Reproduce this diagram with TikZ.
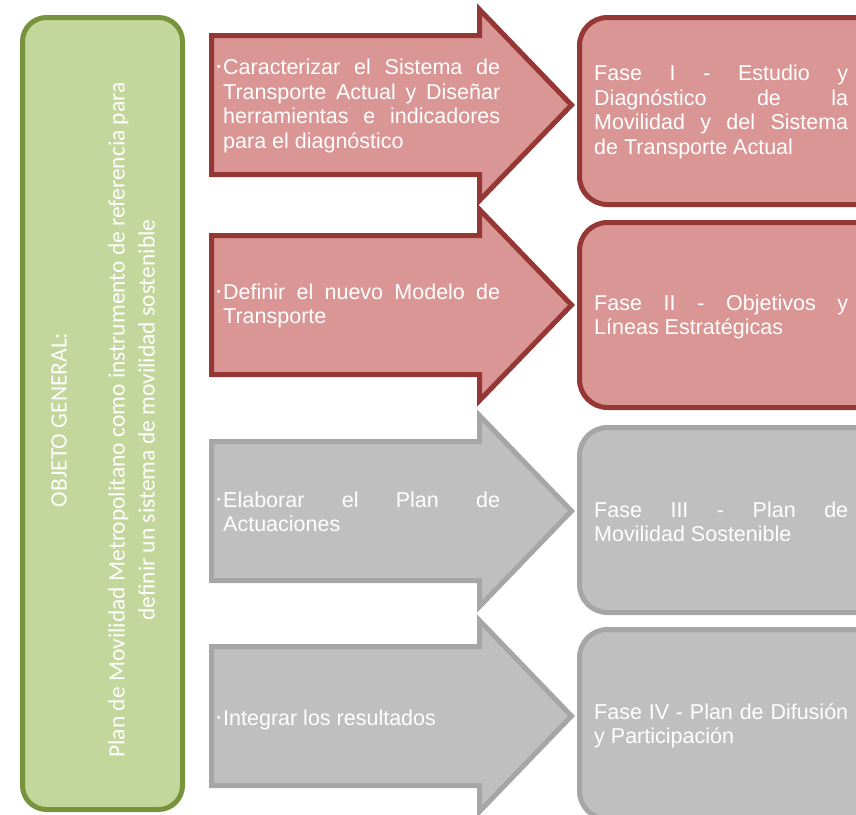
\documentclass[tikz,border=0pt]{standalone}
\usepackage{fontspec}
\setmainfont{Liberation Sans}
\newfontfamily\greenfont{Carlito}
\definecolor{redfill}{HTML}{D99694}
\definecolor{redline}{HTML}{953735}
\definecolor{grayfill}{HTML}{BFBFBF}
\definecolor{grayline}{HTML}{A6A6A6}
\definecolor{greenfill}{HTML}{C3D69B}
\definecolor{greenline}{HTML}{77933C}
\newcommand\bigarrowpath[2]{%
  \draw[#1] (211.5,#2-69.5) -- (479.5,#2-69.5) -- (479.5,#2-95.5) -- (571.5,#2)
    -- (479.5,#2+95.5) -- (479.5,#2+69.5) -- (211.5,#2+69.5) -- cycle;}
\newcommand\bul{\llap{\raisebox{4pt}{\fontsize{11}{11}\selectfont •}\hspace{2.5pt}}}
\hyphenpenalty=10000
\exhyphenpenalty=10000
\tikzset{
  redshape/.style={fill=redfill, draw=redline, line width=5pt},
  grayshape/.style={fill=grayfill, draw=grayline, line width=5pt},
  greenshape/.style={fill=greenfill, draw=greenline, line width=5pt},
  arrowtext/.style={text=white, text width=277pt, align=justify, inner sep=0pt,
    anchor=west, font=\fontsize{21.5}{24.5}\selectfont},
  boxtext/.style={text=white, text width=254pt, align=justify, inner sep=0pt,
    anchor=west, font=\fontsize{21.5}{24.5}\selectfont},
  greentext/.style={text=white, align=center, inner sep=0pt, rotate=90,
    font=\greenfont\fontsize{23.5}{30}\selectfont},
}
\begin{document}
\begin{tikzpicture}[x=1pt,y=-1pt]
\useasboundingbox (0,0) rectangle (856,814);
\clip (0,0) rectangle (856,814);

% left green box
\draw[greenshape, rounded corners=24pt] (22.5,17.5) rectangle (182.5,809.5);
\node[greentext] (obj) at (103,420)
  {OBJETO GENERAL:\\[28pt]Plan de Movilidad Metropolitano como instrumento de referencia para\\definir un sistema de movilidad sostenible};

% arrows
\bigarrowpath{redshape}{105}
\bigarrowpath{redshape}{305}
\bigarrowpath{grayshape}{511}
\bigarrowpath{grayshape}{716}

\node[arrowtext] (a1) at (223,106)
  {\bul Caracterizar el Sistema de\linebreak Transporte Actual y Diseñar\linebreak herramientas e indicadores\linebreak para el diagnóstico};
\node[arrowtext] (a2) at (223,306)
  {\bul Definir el nuevo Modelo de\linebreak Transporte};
\node[arrowtext] (a3) at (223,512)
  {\bul Elaborar el Plan de\linebreak Actuaciones};
\node[arrowtext] (a4) at (223,720)
  {\bul Integrar los resultados};

% right boxes
\draw[redshape, rounded corners=28pt] (579.5,17.5) rectangle (900,204.5);
\draw[redshape, rounded corners=28pt] (579.5,222.5) rectangle (900,407.5);
\draw[grayshape, rounded corners=28pt] (579.5,427.5) rectangle (900,612.5);
\draw[grayshape, rounded corners=28pt] (579.5,629.5) rectangle (900,819);

\node[boxtext] (f1) at (594,112)
  {Fase I - Estudio y\linebreak Diagnóstico de la\linebreak Movilidad y del Sistema\linebreak de Transporte Actual};
\node[boxtext] (f2) at (594,317)
  {Fase II - Objetivos y\linebreak Líneas Estratégicas};
\node[boxtext] (f3) at (594,522)
  {Fase III - Plan de\linebreak Movilidad Sostenible};
\node[boxtext] (f4) at (594,726)
  {Fase IV - Plan de Difusión\linebreak y Participación};
\end{tikzpicture}
\end{document}
